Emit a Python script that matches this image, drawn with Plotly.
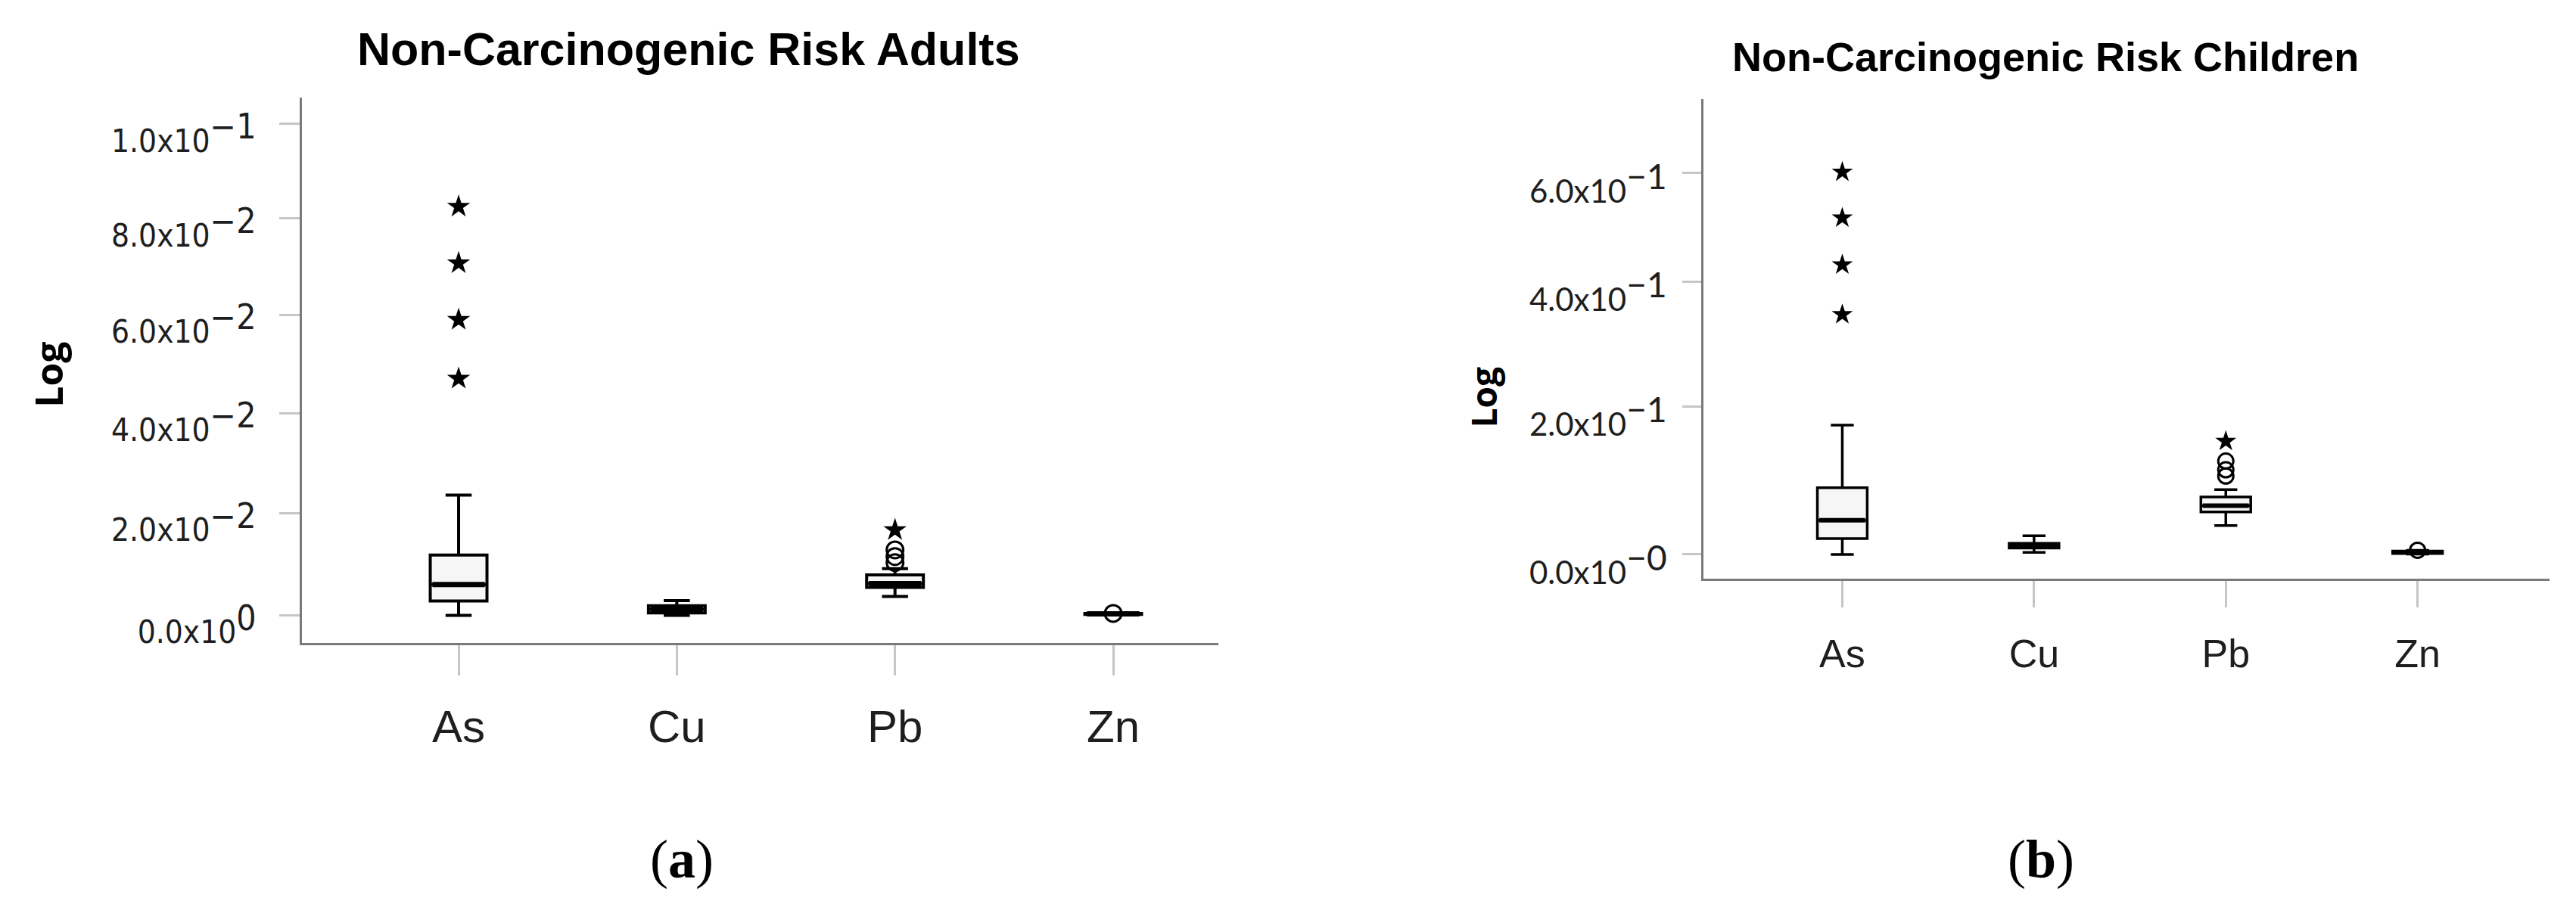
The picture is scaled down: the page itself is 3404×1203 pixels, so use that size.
import numpy as np
import plotly.graph_objects as go

W, H = 3404, 1203

categories = ["As", "Cu", "Pb", "Zn"]

# ---- Adults (panel a) ----
adult_lower = [0.0000, 0.0000, 0.0037, 0.0001]
adult_q1 = [0.0028, 0.0005, 0.00545, 0.0002]
adult_median = [0.0060, 0.0012, 0.0062, 0.0003]
adult_q3 = [0.0118, 0.0019, 0.0079, 0.0004]
adult_upper = [0.0236, 0.0029, 0.0091, 0.0005]
adult_as_extremes = [0.0825, 0.0707, 0.0590, 0.0470]
adult_pb_outliers = [0.0103, 0.0115, 0.0128]
adult_pb_extremes = [0.0167]
adult_zn_outliers = [0.0004]
adult_ticks = [0.0, 0.02, 0.04, 0.06, 0.08, 0.10]
adult_ticktext = ["0.0x10", "2.0x10", "4.0x10", "6.0x10", "8.0x10", "1.0x10"]
adult_tickexp = ["0", "−2", "−2", "−2", "−2", "−1"]

# ---- Children (panel b) ----
child_lower = [0.0000, 0.0026, 0.0363, 0.0005]
child_q1 = [0.0198, 0.0079, 0.0538, 0.0012]
child_median = [0.0430, 0.0105, 0.0619, 0.0028]
child_q3 = [0.0856, 0.0139, 0.0733, 0.0042]
child_upper = [0.1729, 0.0234, 0.0831, 0.0050]
child_as_extremes = [0.602, 0.514, 0.429, 0.344]
child_pb_outliers = [0.1015, 0.1099, 0.1219]
child_pb_extremes = [0.1496]
child_zn_outliers = [0.0051]
child_ticks = [0.0, 0.2, 0.4, 0.6]
child_ticktext = ["0.0x10", "2.0x10", "4.0x10", "6.0x10"]
child_tickexp = ["−0", "−1", "−1", "−1"]


def t(v):
    """'Log' axis transform used by the original chart: ln(1 + value)."""
    return np.log1p(np.asarray(v, dtype=float))


def px_x(p):
    return p / W


def px_y(p):
    return 1 - p / H


fig = go.Figure()

BOXW = 0.26


def add_panel(xa, ya, lower, q1, med, q3, upper, as_ext, pb_out, pb_ext, zn_out,
              lw, mw, star_size, circ_size):
    xs = list(range(len(categories)))
    fig.add_trace(go.Box(
        x=xs, q1=t(q1), median=t(med), q3=t(q3),
        lowerfence=t(lower), upperfence=t(upper),
        width=BOXW, whiskerwidth=0.46,
        fillcolor="#f6f6f6", line=dict(color="black", width=lw),
        boxpoints=False, hoverinfo="skip", showlegend=False,
        xaxis=xa, yaxis=ya,
    ))
    mx, my = [], []
    hw = BOXW / 2 - 0.01
    for i, m in enumerate(med):
        mx += [i - hw, i + hw, None]
        my += [float(t(m)), float(t(m)), None]
    fig.add_trace(go.Scatter(x=mx, y=my, mode="lines",
                             line=dict(color="black", width=mw),
                             hoverinfo="skip", showlegend=False,
                             xaxis=xa, yaxis=ya))
    ia, ip, iz = categories.index("As"), categories.index("Pb"), categories.index("Zn")
    ext_x = [ia] * len(as_ext) + [ip] * len(pb_ext)
    ext_y = list(t(as_ext)) + list(t(pb_ext))
    fig.add_trace(go.Scatter(x=ext_x, y=ext_y, mode="markers",
                             marker=dict(symbol="star", size=star_size, color="black",
                                         line=dict(width=0)),
                             hoverinfo="skip", showlegend=False,
                             xaxis=xa, yaxis=ya))
    out_x = [ip] * len(pb_out) + [iz] * len(zn_out)
    out_y = list(t(pb_out)) + list(t(zn_out))
    fig.add_trace(go.Scatter(x=out_x, y=out_y, mode="markers",
                             marker=dict(symbol="circle-open", size=circ_size, color="black",
                                         line=dict(width=3, color="black")),
                             hoverinfo="skip", showlegend=False,
                             xaxis=xa, yaxis=ya))


add_panel("x", "y", adult_lower, adult_q1, adult_median, adult_q3, adult_upper,
          adult_as_extremes, adult_pb_outliers, adult_pb_extremes, adult_zn_outliers,
          lw=4, mw=7, star_size=23, circ_size=22)
add_panel("x2", "y2", child_lower, child_q1, child_median, child_q3, child_upper,
          child_as_extremes, child_pb_outliers, child_pb_extremes, child_zn_outliers,
          lw=3.5, mw=6, star_size=21, circ_size=20)


def ticklabels(base, exps, size):
    return [f"{b}<sup><span style='font-size:{size}px'>{e}</span></sup>" for b, e in zip(base, exps)]


axis_common = dict(showgrid=False, zeroline=False, showline=True, linecolor="#7a7a7a",
                   linewidth=3, ticks="outside", tickcolor="#c6c6c6", tickwidth=3)

fig.update_layout(
    width=W, height=H, autosize=False,
    margin=dict(l=0, r=0, t=0, b=0, pad=0),
    paper_bgcolor="white", plot_bgcolor="white",
    showlegend=False,
    xaxis=dict(domain=[px_x(391), px_x(1602)], range=[-0.718, 3.482], anchor="y",
               tickmode="array", tickvals=list(range(len(categories))), ticktext=categories,
               ticklen=40, ticklabelstandoff=16,
               tickfont=dict(family="Liberation Sans", size=60, color="#1e1e1e"),
               **axis_common),
    yaxis=dict(domain=[px_y(853), px_y(123)], range=[-0.00539, 0.10036], anchor="x",
               tickmode="array", tickvals=list(t(adult_ticks)),
               ticktext=ticklabels(adult_ticktext, adult_tickexp, 46),
               ticklen=27, ticklabelstandoff=22, ticklabelshift=22,
               tickfont=dict(family="DejaVu Sans Condensed, DejaVu Sans", size=42, color="#1e1e1e"),
               **axis_common),
    xaxis2=dict(domain=[px_x(2243), px_x(3361)], range=[-0.724, 3.688], anchor="y2",
                tickmode="array", tickvals=list(range(len(categories))), ticktext=categories,
                ticklen=35, ticklabelstandoff=16,
                tickfont=dict(family="Liberation Sans", size=52, color="#1e1e1e"),
                **axis_common),
    yaxis2=dict(domain=[px_y(767), px_y(125)], range=[-0.0303, 0.5608], anchor="x2",
                tickmode="array", tickvals=list(t(child_ticks)),
                ticktext=ticklabels(child_ticktext, child_tickexp, 46),
                ticklen=25, ticklabelstandoff=12, ticklabelshift=24,
                tickfont=dict(family="Lato", size=42, color="#1e1e1e"),
                **axis_common),
)

annotations = [
    dict(text="Non-Carcinogenic Risk Adults", x=px_x(902), y=px_y(58),
         font=dict(family="Liberation Sans", size=61, color="black", weight="bold")),
    dict(text="Non-Carcinogenic Risk Children", x=px_x(2695), y=px_y(68),
         font=dict(family="Liberation Sans", size=54, color="black", weight="bold")),
    dict(text="Log", x=px_x(56), y=px_y(494), textangle=-90,
         font=dict(family="Open Sans", size=50, color="black", weight="bold")),
    dict(text="Log", x=px_x(1952), y=px_y(524), textangle=-90,
         font=dict(family="Open Sans", size=46, color="black", weight="bold")),
    dict(text="(<b>a</b>)", x=px_x(893), y=px_y(1142),
         font=dict(family="Liberation Serif", size=72, color="black")),
    dict(text="(<b>b</b>)", x=px_x(2689), y=px_y(1142),
         font=dict(family="Liberation Serif", size=72, color="black")),
]
for a in annotations:
    a.update(xref="paper", yref="paper", xanchor="center", yanchor="middle", showarrow=False)
fig.update_layout(annotations=annotations)

fig.write_html("out.html")
